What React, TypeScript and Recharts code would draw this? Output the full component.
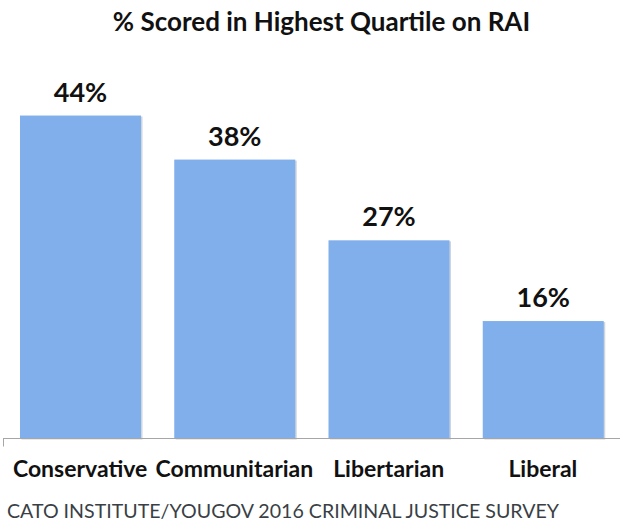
import React from 'react';
import { BarChart, Bar, XAxis, YAxis, LabelList } from 'recharts';

const categories = ['Conservative', 'Communitarian', 'Libertarian', 'Liberal'];
const values = [44, 38, 27, 16];
const title = '% Scored in Highest Quartile on RAI';
const source = 'CATO INSTITUTE/YOUGOV 2016 CRIMINAL JUSTICE SURVEY';

const data = categories.map((c, i) => ({ name: c, value: values[i] }));

const W = 623;
const H = 531;
const FONT = 'Lato, "Open Sans", sans-serif';
const LEFT = 3;
const RIGHT = 3;
const BAND = (W - LEFT - RIGHT) / categories.length;

const CategoryTick = (props: any) => {
  const { x, y, payload, index } = props;
  return (
    <g>
      {index === 0 && (
        <line x1={x - BAND / 2 + 0.5} x2={x - BAND / 2 + 0.5} y1={y} y2={y + 8} stroke="#a6a6a6" strokeWidth={1} />
      )}
      <text x={x} y={y + 38} textAnchor="middle" fontFamily={FONT} fontWeight={700} fontSize={23} fill="#111">
        {payload.value}
      </text>
    </g>
  );
};

const ValueLabel = (props: any) => {
  const { x, y, width, value } = props;
  return (
    <text x={x + width / 2} y={y - 14} textAnchor="middle" fontFamily={FONT} fontWeight={700} fontSize={27} fill="#111">
      {value}%
    </text>
  );
};

const ShadowBar = (props: any) => {
  const { x, y, width, height, fill } = props;
  return (
    <g>
      <rect x={x + 1.5} y={y + 1} width={width} height={height} fill="#b9c3cf" opacity={0.7} />
      <rect x={x} y={y} width={width} height={height} fill={fill} />
    </g>
  );
};

export default function App() {
  return (
    <div style={{ position: 'absolute', left: 0, top: 0, width: W, height: H, background: '#fff', fontFamily: FONT }}>
      <div
        style={{
          position: 'absolute',
          left: 0,
          top: 4,
          width: W,
          textAlign: 'center',
          fontSize: 26,
          fontWeight: 700,
          color: '#111',
          lineHeight: '34px',
          paddingLeft: 20,
          boxSizing: 'border-box',
          whiteSpace: 'nowrap',
        }}
      >
        {title}
      </div>
      <BarChart width={W} height={H} data={data} margin={{ top: 71.5, right: RIGHT, left: LEFT, bottom: 52.5 }} barSize={121}>
        <YAxis hide domain={[0, 50]} />
        <XAxis
          dataKey="name"
          height={40}
          axisLine={{ stroke: '#a6a6a6', strokeWidth: 1 }}
          tickLine={false}
          tickSize={0}
          tickMargin={0}
          interval={0}
          tick={<CategoryTick />}
        />
        <Bar dataKey="value" fill="#80afec" isAnimationActive={false} shape={<ShadowBar />}>
          <LabelList dataKey="value" content={<ValueLabel />} />
        </Bar>
      </BarChart>
      <div
        style={{
          position: 'absolute',
          left: 7,
          top: 498,
          fontSize: 19.6,
          color: '#3a3f45',
          lineHeight: '26px',
          whiteSpace: 'nowrap',
        }}
      >
        {source}
      </div>
    </div>
  );
}
